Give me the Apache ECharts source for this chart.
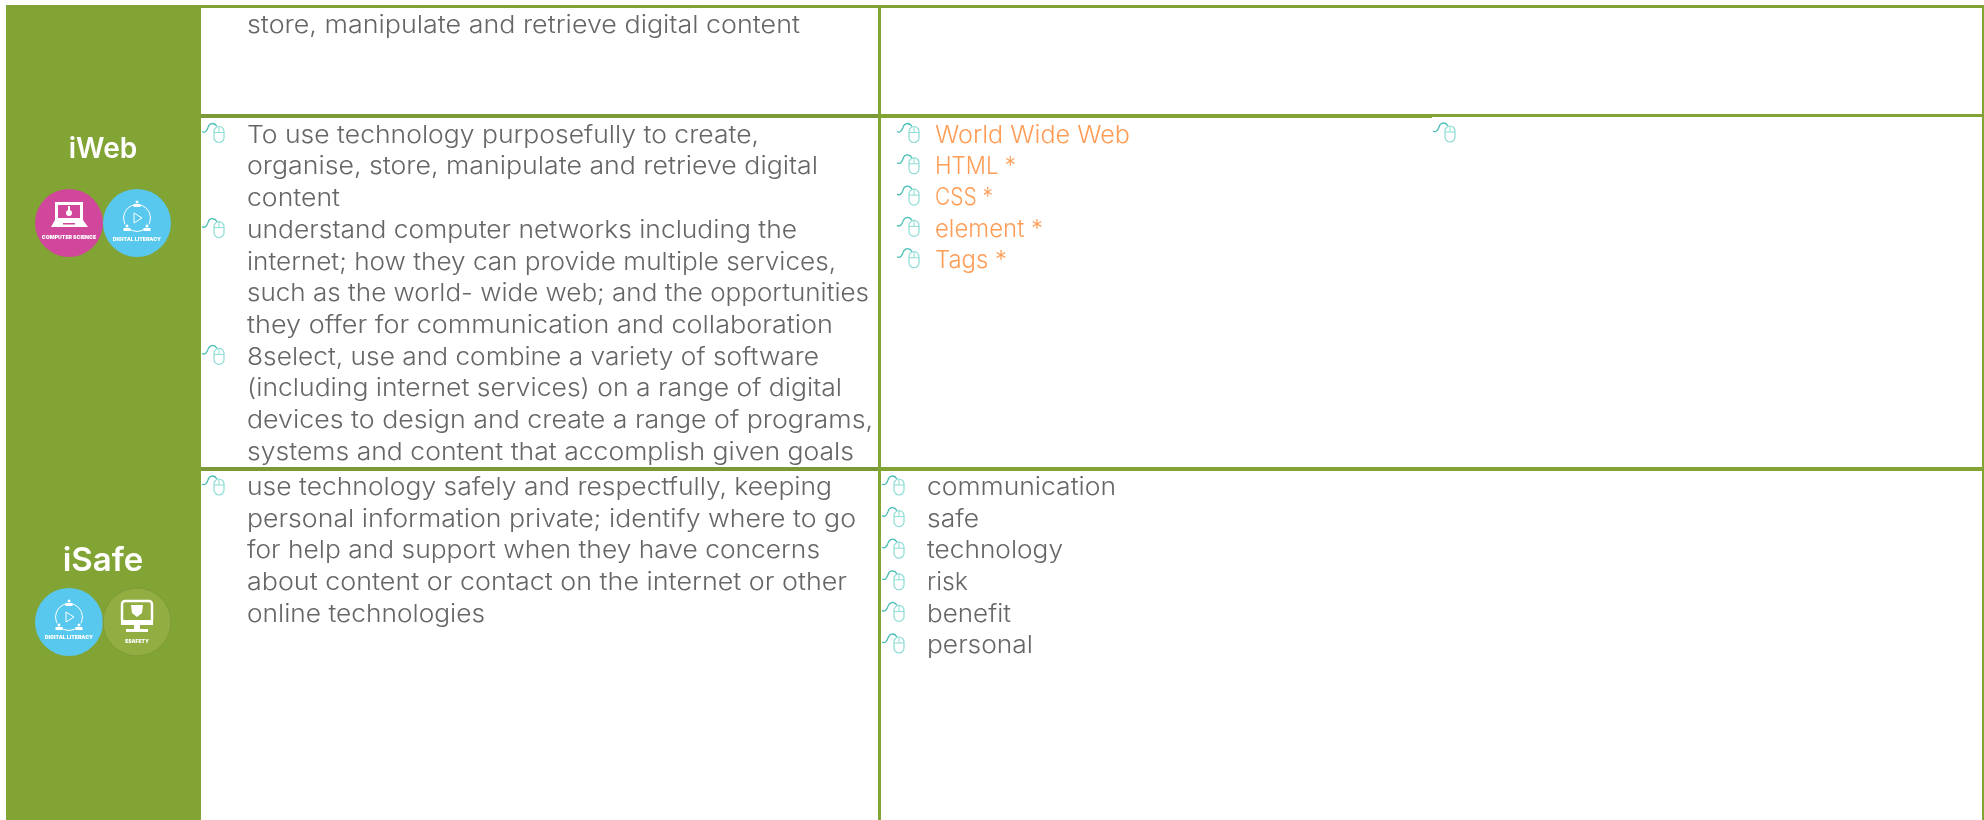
<!DOCTYPE html>
<html>
<head>
<meta charset="utf-8">
<style>html,body{margin:0;padding:0;background:#fff}#main{width:1984px;height:820px}</style>
<script src="https://cdn.jsdelivr.net/npm/echarts@6/dist/echarts.min.js"></script>
</head>
<body>
<div id="main"></div>
<script>
var topLine = ["store, manipulate and retrieve digital content"];
var iwebObjectives = [
	"To use technology purposefully to create,",
	"organise, store, manipulate and retrieve digital",
	"content",
	"understand computer networks including the",
	"internet; how they can provide multiple services,",
	"such as the world- wide web; and the opportunities",
	"they offer for communication and collaboration",
	"8select, use and combine a variety of software",
	"(including internet services) on a range of digital",
	"devices to design and create a range of programs,",
	"systems and content that accomplish given goals"
];
var iwebBullets = [0, 3, 7];
var iwebWords = ["World Wide Web", "HTML *", "CSS *", "element *", "Tags *"];
var isafeObjectives = [
	"use technology safely and respectfully, keeping",
	"personal information private; identify where to go",
	"for help and support when they have concerns",
	"about content or contact on the internet or other",
	"online technologies"
];
var isafeWords = ["communication", "safe", "technology", "risk", "benefit", "personal"];

// where each line of the original ends, the installed font runs narrower
var topEnds = [800];
var iwebObjectiveEnds = [759, 818, 340, 797, 836, 869, 833, 819, 842, 873, 854];
var iwebWordEnds = [1130, 1016, 993, 1043, 1007];
var isafeObjectiveEnds = [832, 856, 820, 847, 485];
var isafeWordEnds = [1116, 979, 1063, 968, 1011, 1033];

var green = "#82a435";
var greenDark = "#7b9a37";
var grey = "#666666";
var orange = "#ff9d57";
var font = "Inter";
var bodySize = 24;

var els = [];
var measure = document.createElement("canvas").getContext("2d");

function rect(x, y, w, h, fill) {
	els.push({type: "rect", shape: {x: x, y: y, width: w, height: h}, style: {fill: fill}, silent: true});
}
function text(str, x, cy, color, size, weight, align, end) {
	var f = (weight || 300) + " " + (size || bodySize) + "px " + font;
	var sx = 1;
	if (end) {
		measure.font = f;
		sx = (end - x) / measure.measureText(str).width;
	}
	els.push({type: "text", x: x, y: cy, scaleX: sx, style: {
		text: str, fill: color, font: f,
		verticalAlign: "middle", align: align || "left"
	}});
}
// little mouse on a cable, x,y is the top left corner of a 22x20 box
function mouseIcon(x, y) {
	els.push({type: "group", x: x, y: y, children: [
		{type: "bezierCurve", shape: {x1: 0, y1: 9, cpx1: 3, cpy1: 11, cpx2: 5, cpy2: 8, x2: 6, y2: 5}, style: {fill: "none", stroke: "#45bdb3", lineWidth: 1.3}},
		{type: "bezierCurve", shape: {x1: 6, y1: 5, cpx1: 7, cpy1: 1, cpx2: 12, cpy2: -1, x2: 15, y2: 4}, style: {fill: "none", stroke: "#45bdb3", lineWidth: 1.3}},
		{type: "rect", shape: {x: 12, y: 4, width: 10, height: 16, r: 5}, style: {fill: "none", stroke: "#8ddcd5", lineWidth: 1.2}},
		{type: "line", shape: {x1: 12, y1: 10, x2: 22, y2: 10}, style: {stroke: "#8ddcd5", lineWidth: 1}},
		{type: "line", shape: {x1: 17, y1: 4, x2: 17, y2: 10}, style: {stroke: "#8ddcd5", lineWidth: 1}}
	]});
}
function badge(cx, cy, fill, label, size, dy, edge) {
	els.push({type: "circle", shape: {cx: cx, cy: cy, r: 34}, style: {fill: fill, stroke: edge || null, lineWidth: 1}});
	text(label, cx, cy + dy, "#fff", size, 900, "center");
}
function laptopIcon(cx, cy) {
	rect(cx - 14, cy - 21, 28, 18, "#fff");
	rect(cx - 11, cy - 18, 22, 13, "#d0479b");
	els.push({type: "circle", shape: {cx: cx, cy: cy - 10, r: 3}, style: {fill: "#fff"}});
	rect(cx - 1, cy - 17, 2, 5, "#fff");
	els.push({type: "polygon", shape: {points: [[cx - 14, cy - 3], [cx + 14, cy - 3], [cx + 19, cy + 4], [cx - 18, cy + 4]]}, style: {fill: "#fff"}});
	rect(cx - 6, cy, 12, 1.5, "#d0479b");
}
function cycleIcon(cx, cy) {
	els.push({type: "circle", shape: {cx: cx, cy: cy - 5, r: 13.5}, style: {fill: "none", stroke: "#fff", lineWidth: 1}});
	els.push({type: "polygon", shape: {points: [[cx - 3, cy - 10], [cx + 5, cy - 5], [cx - 3, cy]]}, style: {fill: "none", stroke: "#fff", lineWidth: 1}});
	[[0, -19], [-10, 5], [10, 5]].forEach(function (p) {
		els.push({type: "circle", shape: {cx: cx + p[0], cy: cy + p[1] - 2, r: 2}, style: {fill: "#fff", stroke: "#58c8ee", lineWidth: 1}});
		rect(cx + p[0] - 3.5, cy + p[1], 7, 3, "#fff");
	});
}
function safetyIcon(cx, cy) {
	els.push({type: "rect", shape: {x: cx - 15, y: cy - 21, width: 30, height: 22, r: 3}, style: {fill: "none", stroke: "#fff", lineWidth: 2.5}});
	rect(cx - 16, cy - 2, 32, 5, "#fff");
	els.push({type: "polygon", shape: {points: [[cx - 6, cy - 17], [cx + 6, cy - 17], [cx + 5, cy - 9], [cx, cy - 5], [cx - 5, cy - 9]]}, style: {fill: "#fff"}});
	rect(cx - 3, cy + 3, 6, 4, "#fff");
	rect(cx - 11, cy + 7, 22, 3, "#fff");
}

// table frame
rect(6, 5, 195, 815, green);
rect(201, 5, 1783, 3, green);
rect(201, 114, 677, 4, greenDark);
rect(878, 114, 554, 4, green);
rect(1432, 114, 552, 3, green);
rect(201, 467, 677, 4, greenDark);
rect(878, 467, 1106, 4, green);
rect(878, 5, 3, 815, green);
rect(1982, 5, 2, 815, green);

text("iWeb", 103, 150, "#fff", 28, 600, "center");
badge(69, 223, "#d0479b", "COMPUTER SCIENCE", 5.2, 14);
laptopIcon(69, 223);
badge(137, 223, "#58c8ee", "DIGITAL LITERACY", 5.2, 16);
cycleIcon(137, 223);

text("iSafe", 103, 561, "#fff", 33, 600, "center");
badge(69, 622, "#58c8ee", "DIGITAL LITERACY", 5.2, 15);
cycleIcon(69, 622);
badge(137, 622, "#92ad42", "ESAFETY", 5, 19, "#7d9a38");
safetyIcon(137, 622);

text(topLine[0], 247, 26, grey, null, null, null, topEnds[0]);

iwebObjectives.forEach(function (s, i) {
	var cy = 135.5 + i * 31.7;
	text(s, 247, cy, grey, null, null, null, iwebObjectiveEnds[i]);
	if (iwebBullets.indexOf(i) >= 0) mouseIcon(202, cy - 13);
});
iwebWords.forEach(function (s, i) {
	var cy = 135.5 + i * 31.3;
	text(s, 935, cy, orange, null, null, null, iwebWordEnds[i]);
	mouseIcon(897, cy - 13);
});
mouseIcon(1433, 122);

isafeObjectives.forEach(function (s, i) {
	var cy = 488 + i * 31.6;
	text(s, 247, cy, grey, null, null, null, isafeObjectiveEnds[i]);
	if (i == 0) mouseIcon(202, 475);
});
isafeWords.forEach(function (s, i) {
	var cy = 488 + i * 31.6;
	text(s, 927, cy, grey, null, null, null, isafeWordEnds[i]);
	mouseIcon(882, cy - 13);
});

var chart = echarts.init(document.getElementById("main"));
chart.setOption({animation: false, backgroundColor: "#fff", graphic: {elements: els}});
</script>
</body>
</html>
